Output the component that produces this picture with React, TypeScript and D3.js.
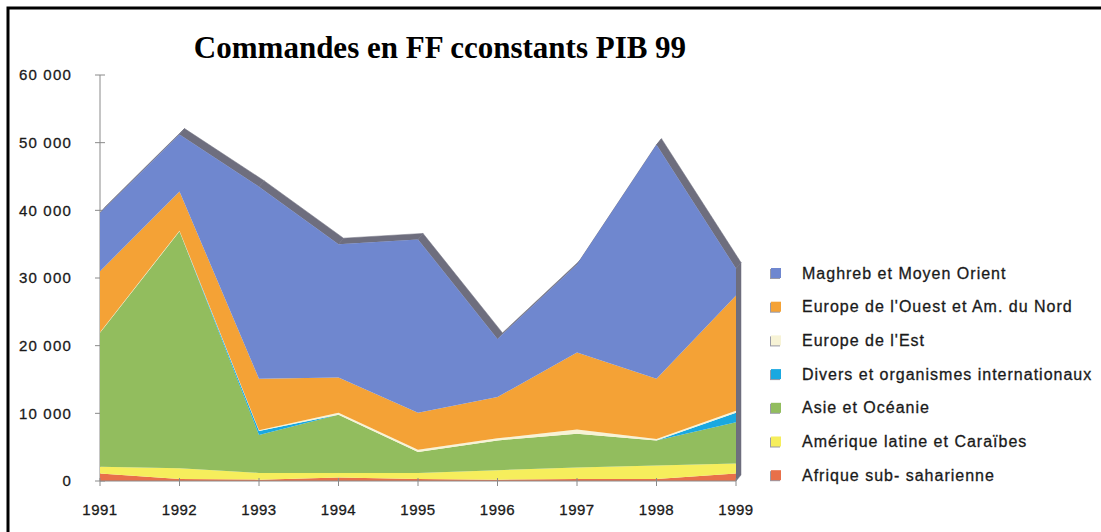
import React from "react";
import * as d3 from "d3";

const years = [1991, 1992, 1993, 1994, 1995, 1996, 1997, 1998, 1999];
const afrique = [1100, 300, 200, 500, 300, 200, 300, 300, 1100];
const amerique = [1000, 1600, 1000, 700, 900, 1400, 1700, 2000, 1500];
const asie = [19800, 35000, 5600, 8600, 3100, 4400, 5000, 3700, 6100];
const divers = [0, 0, 600, 0, 0, 0, 0, 0, 1400];
const europeEst = [100, 100, 100, 300, 300, 300, 600, 200, 300];
const europeOuest = [9000, 5800, 7600, 5200, 5500, 6100, 11400, 8900, 17000];
const maghreb = [8600, 8400, 28400, 19700, 25600, 8600, 13000, 34600, 4000];
const yTicks = [0, 10000, 20000, 30000, 40000, 50000, 60000];

const series = [
  { key: "afrique", label: "Afrique sub- saharienne", values: afrique, color: "#e8704a" },
  { key: "amerique", label: "Amérique latine et Caraïbes", values: amerique, color: "#f6ee5c" },
  { key: "asie", label: "Asie et Océanie", values: asie, color: "#92bd5e" },
  { key: "divers", label: "Divers et organismes internationaux", values: divers, color: "#1aa8e0" },
  { key: "est", label: "Europe de l'Est", values: europeEst, color: "#f7f3d6" },
  { key: "ouest", label: "Europe de l'Ouest et Am. du Nord", values: europeOuest, color: "#f4a236" },
  { key: "maghreb", label: "Maghreb et Moyen Orient", values: maghreb, color: "#6f87cf" },
];

export default function App() {
  const x = d3.scaleLinear().domain([1991, 1999]).range([100, 736]);
  const y = d3.scaleLinear().domain([0, 60000]).range([481, 75]);
  const rows = years.map((yr, i) => {
    const r: any = { year: yr };
    series.forEach((s) => (r[s.key] = s.values[i]));
    return r;
  });
  const stacked = d3.stack<any>().keys(series.map((s) => s.key))(rows);
  const area = d3
    .area<any>()
    .x((d) => x(d.data.year))
    .y0((d) => y(d[0]))
    .y1((d) => y(d[1]));

  const top = stacked[stacked.length - 1];
  const dx = 5;
  const dy = -6;
  const quads: string[] = [];
  for (let i = 0; i < top.length - 1; i++) {
    const x1 = x(top[i].data.year), y1 = y(top[i][1]);
    const x2 = x(top[i + 1].data.year), y2 = y(top[i + 1][1]);
    quads.push(`M${x1},${y1}L${x2},${y2}L${x2 + dx},${y2 + dy}L${x1 + dx},${y1 + dy}Z`);
  }
  const last = top[top.length - 1];
  const lx = x(last.data.year);
  quads.push(`M${lx},${y(0)}L${lx},${y(last[1])}L${lx + dx},${y(last[1]) + dy}L${lx + dx},${y(0) + dy}Z`);

  const fmt = (v: number) => d3.format(",")(v).replace(/,/g, " ");
  const legendOrder = [...series].reverse();
  const axisFont = "'Liberation Sans', Arial, sans-serif";

  return (
    <svg width={1101} height={532} style={{ position: "absolute", left: 0, top: 0 }}>
      <rect x={0} y={0} width={1101} height={532} fill="#fff" />
      <rect x={8} y={8} width={1200} height={700} fill="none" stroke="#000" strokeWidth={3} />
      <text x={440} y={58} textAnchor="middle" fontFamily="'Liberation Serif', 'Times New Roman', serif" fontWeight="bold" fontSize={31} fill="#000">
        Commandes en FF cconstants PIB 99
      </text>
      {/* axes */}
      <line x1={100} x2={100} y1={y(60000)} y2={y(0)} stroke="#8a8a8a" strokeWidth={1} />
      {yTicks.map((t) => (
        <g key={t}>
          <line x1={95} x2={105} y1={y(t)} y2={y(t)} stroke="#8a8a8a" />
          <text x={72} y={y(t)} dy="0.35em" textAnchor="end" fontFamily={axisFont} fontSize={15} letterSpacing={1.2} fill="#1a1a1a" stroke="#1a1a1a" strokeWidth={0.3}>
            {fmt(t)}
          </text>
        </g>
      ))}
      {/* depth */}
      {quads.map((p, i) => (
        <path key={i} d={p} fill="#6e6e7e" stroke="#6e6e7e" strokeWidth={0.5} />
      ))}
      {stacked.map((s, i) => (
        <path key={s.key} d={area(s as any) || ""} fill={series[i].color} />
      ))}
      <line x1={100} x2={736} y1={y(0)} y2={y(0)} stroke="#8a8a8a" />
      {years.map((yr) => (
        <g key={yr}>
          <line x1={x(yr)} x2={x(yr)} y1={y(0) - 3} y2={y(0) + 5} stroke="#8a8a8a" />
          <text x={x(yr)} y={515} textAnchor="middle" fontFamily={axisFont} fontSize={15} letterSpacing={0.5} fill="#1a1a1a" stroke="#1a1a1a" strokeWidth={0.3}>
            {yr}
          </text>
        </g>
      ))}
      {/* legend */}
      {legendOrder.map((s, i) => {
        const cy = 273 + i * 33.7;
        return (
          <g key={s.key}>
            <rect x={770} y={cy - 4} width={10} height={10} fill="#9a9aa6" />
            <rect x={771} y={cy - 5} width={10} height={10} fill={s.color} />
            <text x={802} y={cy} dy="0.35em" fontFamily={axisFont} fontSize={16} letterSpacing={1} fill="#1a1a1a" stroke="#1a1a1a" strokeWidth={0.3}>
              {s.label}
            </text>
          </g>
        );
      })}
    </svg>
  );
}
